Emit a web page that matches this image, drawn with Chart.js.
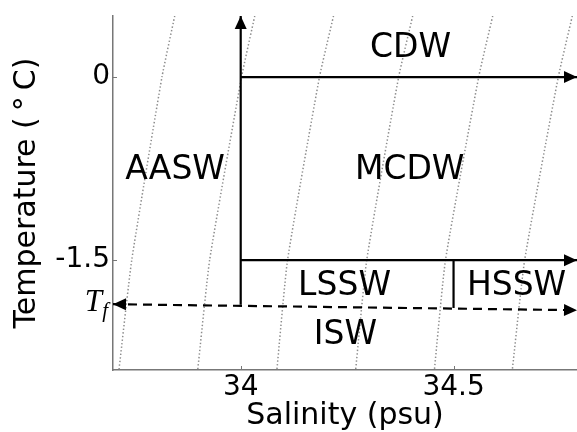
<!DOCTYPE html>
<html><head><meta charset="utf-8">
<script src="https://cdn.jsdelivr.net/npm/chart.js@4"></script>
<style>html,body{margin:0;padding:0;background:#fff;overflow:hidden}#wrap{width:577px;height:432px;position:relative}</style>
</head><body><div id="wrap"><canvas id="c"></canvas></div>
<script>
// Isopycnal (dotted) lines: salinity at each temperature level
const isoT = [0.5, 0, -1.5, -2.4];
const iso1 = [33.845, 33.815, 33.744, 33.714];
const iso2 = [34.033, 34.002, 33.927, 33.899];
const iso3 = [34.218, 34.185, 34.110, 34.085];
const iso4 = [34.404, 34.371, 34.296, 34.270];
const iso5 = [34.592, 34.559, 34.481, 34.455];
const iso6 = [34.779, 34.746, 34.667, 34.638];

// Water-mass boundaries
const wallS = [34, 34];       const wallT = [-1.866, 0.5];
const cdwS = [34, 34.79];     const cdwT = [0, 0];
const sswS = [34, 34.79];     const sswT = [-1.5, -1.5];
const hsswS = [34.5, 34.5];   const hsswT = [-1.5, -1.893];
// Freezing line
const tfS = [33.7, 34.79];    const tfT = [-1.861, -1.91];

// Region labels
const regionNames = ['CDW', 'MCDW', 'AASW', 'LSSW', 'HSSW', 'ISW'];
const regionS = [34.399, 34.397, 33.846, 34.244, 34.648, 34.246];
const regionT = [0.242, -0.758, -0.758, -1.705, -1.705, -2.111];

// Axes
const xTicks = [34, 34.5];
const yTicks = [0, -1.5];
const xRange = [33.7, 34.79];
const yRange = [-2.4, 0.5];

const pts = (s, t) => s.map((v, i) => ({x: v, y: t[i]}));

const isoSets = [iso1, iso2, iso3, iso4, iso5, iso6].map(s => ({
  data: pts(s, isoT), showLine: true, pointRadius: 0, borderColor: '#8c8c8c',
  borderWidth: 1.5, borderDash: [1.4, 2.2], order: 3, tension: 0.15
}));
const solid = (s, t, extra) => Object.assign({
  data: pts(s, t), showLine: true, pointRadius: 0, borderColor: '#000',
  borderWidth: 2.2, order: 1
}, extra);

const datasets = isoSets.concat([
  solid(wallS, wallT, {arrowEnd: true}),
  solid(cdwS, cdwT, {arrowEnd: true}),
  solid(sswS, sswT, {arrowEnd: true}),
  solid(hsswS, hsswT, {}),
  solid(tfS, tfT, {borderDash: [9, 6], arrowEnd: true, arrowStart: true})
]);

function head(ctx, x1, y1, x2, y2) {
  const a = Math.atan2(y2 - y1, x2 - x1), L = 13, W = 6;
  ctx.beginPath();
  ctx.moveTo(x2, y2);
  ctx.lineTo(x2 - L * Math.cos(a) + W * Math.sin(a), y2 - L * Math.sin(a) - W * Math.cos(a));
  ctx.lineTo(x2 - L * Math.cos(a) - W * Math.sin(a), y2 - L * Math.sin(a) + W * Math.cos(a));
  ctx.closePath();
  ctx.fill();
}

const decor = {
  id: 'decor',
  afterDatasetsDraw(chart) {
    const {ctx, scales: {x, y}, chartArea: ca} = chart;
    ctx.save();
    ctx.fillStyle = '#000';
    chart.data.datasets.forEach(ds => {
      const d = ds.data, n = d.length;
      if (ds.arrowEnd) head(ctx, x.getPixelForValue(d[n-2].x), y.getPixelForValue(d[n-2].y),
                            x.getPixelForValue(d[n-1].x), y.getPixelForValue(d[n-1].y));
      if (ds.arrowStart) head(ctx, x.getPixelForValue(d[1].x), y.getPixelForValue(d[1].y),
                              x.getPixelForValue(d[0].x), y.getPixelForValue(d[0].y));
    });
    // region labels
    ctx.font = '33px "DejaVu Sans"';
    ctx.textAlign = 'center';
    ctx.textBaseline = 'middle';
    regionNames.forEach((nm, i) => {
      ctx.fillText(nm, x.getPixelForValue(regionS[i]), y.getPixelForValue(regionT[i]) + 1);
    });
    // inner ticks
    ctx.strokeStyle = '#777';
    ctx.lineWidth = 1;
    xTicks.forEach(v => {
      const px = Math.round(x.getPixelForValue(v)) + 0.5;
      ctx.beginPath(); ctx.moveTo(px, ca.bottom); ctx.lineTo(px, ca.bottom - 4); ctx.stroke();
    });
    yTicks.forEach(v => {
      const py = Math.round(y.getPixelForValue(v)) + 0.5;
      ctx.beginPath(); ctx.moveTo(ca.left, py); ctx.lineTo(ca.left + 4, py); ctx.stroke();
    });
    // T_f label
    const ty = y.getPixelForValue(tfT[0]);
    ctx.fillStyle = '#000';
    ctx.textAlign = 'right';
    ctx.textBaseline = 'alphabetic';
    ctx.font = 'italic 21px "Liberation Serif"';
    ctx.fillText('f', ca.left - 5, ty + 13);
    ctx.font = 'italic 31px "Liberation Serif"';
    ctx.fillText('T', ca.left - 11, ty + 7);
    ctx.restore();
  }
};

new Chart(document.getElementById('c'), {
  type: 'scatter',
  data: {datasets},
  options: {
    responsive: true, maintainAspectRatio: false, animation: false,
    layout: {padding: {top: 16, right: 0, left: 0, bottom: 0}},
    plugins: {legend: {display: false}, tooltip: {enabled: false}},
    scales: {
      x: {
        type: 'linear', min: xRange[0], max: xRange[1],
        afterBuildTicks: s => { s.ticks = xTicks.map(v => ({value: v})); },
        afterFit: s => { s.height = 62; s.paddingLeft = 0; s.paddingRight = 0; },
        ticks: {color: '#000', font: {family: 'DejaVu Sans', size: 28}, padding: 1, callback: v => String(v)},
        grid: {display: true, drawOnChartArea: false, drawTicks: false},
        border: {display: true, color: '#777', width: 1.5},
        title: {display: true, text: 'Salinity (psu)', color: '#000',
                font: {family: 'DejaVu Sans', size: 30, lineHeight: 1.07}, padding: {top: 0, bottom: 0}}
      },
      y: {
        type: 'linear', min: yRange[0], max: yRange[1],
        afterBuildTicks: s => { s.ticks = yTicks.map(v => ({value: v})); },
        afterFit: s => { s.width = 113; s.paddingTop = 0; s.paddingBottom = 0; },
        ticks: {color: '#000', font: {family: 'DejaVu Sans', size: 28, lineHeight: 1.0}, padding: 3, callback: v => String(v)},
        grid: {display: true, drawOnChartArea: false, drawTicks: false},
        border: {display: true, color: '#777', width: 1.5},
        title: {display: true, text: 'Temperature (\u2009°\u2009C)', color: '#000',
                font: {family: 'DejaVu Sans', size: 30, lineHeight: 1.2}, padding: {top: 9, bottom: 0}}
      }
    }
  },
  plugins: [decor]
});
</script>
</body></html>
